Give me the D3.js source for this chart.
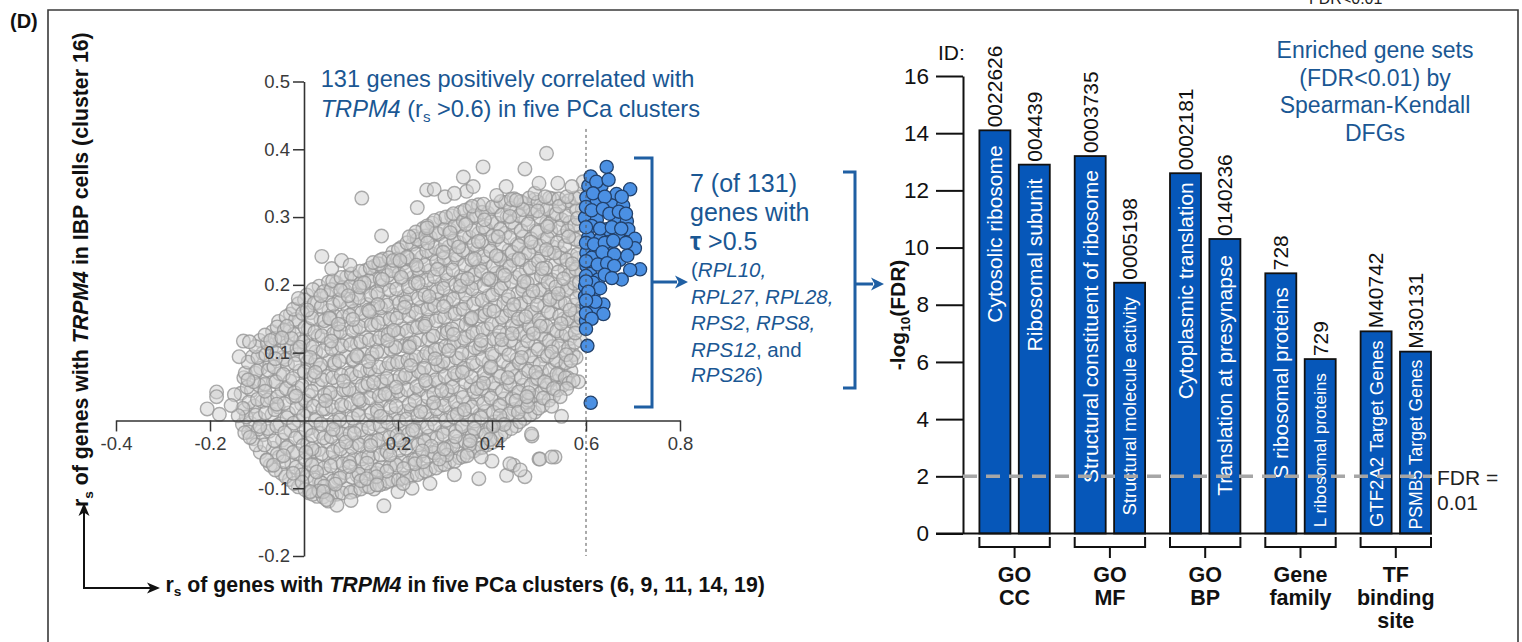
<!DOCTYPE html>
<html>
<head>
<meta charset="utf-8">
<script src="https://cdn.jsdelivr.net/npm/d3@7"></script>
<style>
  html, body { margin: 0; padding: 0; background: #fff; }
  svg { display: block; font-family: "Liberation Sans", Arial, sans-serif; }
  text { white-space: pre; }
</style>
</head>
<body>
<svg id="fig" width="1522" height="642"></svg>
<script>
// ---------- Scatter: rs with TRPM4 (five PCa clusters vs. IBP cluster 16) ----------
// [rs in five PCa clusters, rs in IBP cells]
const grayGenes = [
  [-0.131,-0.006],[-0.126,0.016],[-0.134,0.04],[-0.128,0.063],
  [-0.108,-0.027],[-0.114,-0.004],[-0.106,0.021],[-0.112,0.044],[-0.104,0.07],[-0.11,0.094],
  [-0.093,-0.047],[-0.087,-0.021],[-0.095,0.003],[-0.089,0.028],[-0.084,0.052],[-0.092,0.077],[-0.088,0.099],[-0.094,0.118],
  [-0.072,-0.066],[-0.066,-0.041],[-0.074,-0.016],[-0.068,0.009],[-0.071,0.033],[-0.065,0.058],[-0.073,0.082],[-0.069,0.107],[-0.067,0.131],
  [-0.048,-0.078],[-0.053,-0.054],[-0.046,-0.029],[-0.051,-0.005],[-0.055,0.02],[-0.047,0.045],[-0.052,0.069],[-0.045,0.093],[-0.05,0.118],[-0.054,0.146],
  [-0.031,-0.087],[-0.026,-0.064],[-0.034,-0.038],[-0.028,-0.015],[-0.033,0.011],[-0.025,0.034],[-0.03,0.058],[-0.035,0.083],[-0.027,0.107],[-0.032,0.131],[-0.029,0.157],
  [-0.012,-0.098],[-0.006,-0.073],[-0.014,-0.049],[-0.008,-0.025],[-0.011,0.0],[-0.005,0.024],[-0.013,0.048],[-0.009,0.073],[-0.015,0.097],[-0.007,0.12],[-0.01,0.146],[-0.012,0.172],
  [0.011,-0.107],[0.006,-0.083],[0.014,-0.059],[0.008,-0.034],[0.013,-0.011],[0.005,0.014],[0.01,0.037],[0.015,0.062],[0.007,0.086],[0.012,0.11],[0.009,0.135],[0.014,0.159],[0.006,0.185],
  [0.028,-0.112],[0.033,-0.09],[0.026,-0.066],[0.031,-0.043],[0.035,-0.019],[0.027,0.005],[0.032,0.029],[0.029,0.053],[0.034,0.077],[0.025,0.101],[0.03,0.125],[0.036,0.149],[0.028,0.173],[0.032,0.198],
  [0.051,-0.104],[0.047,-0.079],[0.054,-0.055],[0.049,-0.031],[0.053,-0.007],[0.046,0.017],[0.052,0.041],[0.048,0.065],[0.055,0.089],[0.05,0.113],[0.045,0.138],[0.053,0.162],[0.049,0.185],[0.052,0.204],
  [0.069,-0.109],[0.073,-0.086],[0.066,-0.062],[0.072,-0.038],[0.068,-0.014],[0.074,0.01],[0.067,0.034],[0.071,0.058],[0.065,0.082],[0.073,0.106],[0.07,0.13],[0.066,0.154],[0.074,0.178],[0.069,0.203],
  [0.091,-0.101],[0.087,-0.077],[0.094,-0.052],[0.088,-0.028],[0.093,-0.003],[0.086,0.021],[0.09,0.045],[0.095,0.07],[0.089,0.094],[0.092,0.118],[0.085,0.142],[0.093,0.167],[0.088,0.191],[0.091,0.212],
  [0.108,-0.104],[0.113,-0.081],[0.106,-0.057],[0.112,-0.033],[0.109,-0.009],[0.114,0.015],[0.107,0.04],[0.111,0.064],[0.105,0.088],[0.113,0.113],[0.11,0.137],[0.106,0.161],[0.112,0.186],[0.108,0.21],
  [0.131,-0.097],[0.126,-0.072],[0.134,-0.048],[0.128,-0.024],[0.133,0.0],[0.125,0.025],[0.13,0.049],[0.135,0.074],[0.127,0.098],[0.132,0.122],[0.129,0.147],[0.134,0.171],[0.126,0.196],[0.131,0.221],
  [0.149,-0.101],[0.153,-0.078],[0.146,-0.054],[0.152,-0.03],[0.148,-0.005],[0.155,0.019],[0.147,0.043],[0.151,0.067],[0.145,0.092],[0.154,0.116],[0.15,0.141],[0.146,0.165],[0.153,0.189],[0.148,0.213],[0.151,0.228],
  [0.171,-0.093],[0.166,-0.069],[0.174,-0.044],[0.168,-0.02],[0.173,0.004],[0.165,0.029],[0.17,0.053],[0.175,0.077],[0.167,0.102],[0.172,0.126],[0.169,0.15],[0.174,0.175],[0.166,0.199],[0.171,0.223],[0.168,0.238],
  [0.188,-0.088],[0.193,-0.063],[0.186,-0.039],[0.191,-0.015],[0.195,0.01],[0.187,0.034],[0.192,0.058],[0.189,0.083],[0.194,0.107],[0.185,0.131],[0.19,0.156],[0.196,0.18],[0.188,0.204],[0.192,0.228],[0.189,0.248],
  [0.211,-0.085],[0.207,-0.06],[0.214,-0.035],[0.209,-0.011],[0.213,0.013],[0.206,0.037],[0.212,0.062],[0.208,0.086],[0.215,0.11],[0.21,0.135],[0.205,0.159],[0.213,0.183],[0.209,0.208],[0.212,0.232],[0.207,0.255],
  [0.229,-0.082],[0.233,-0.057],[0.226,-0.033],[0.232,-0.008],[0.228,0.016],[0.234,0.04],[0.227,0.065],[0.231,0.089],[0.225,0.114],[0.233,0.138],[0.23,0.162],[0.226,0.187],[0.232,0.211],[0.228,0.236],[0.231,0.26],[0.234,0.272],
  [0.251,-0.077],[0.246,-0.052],[0.254,-0.028],[0.248,-0.003],[0.253,0.021],[0.245,0.045],[0.25,0.07],[0.255,0.094],[0.247,0.119],[0.252,0.143],[0.249,0.167],[0.254,0.192],[0.246,0.216],[0.251,0.241],[0.248,0.265],[0.253,0.283],
  [0.268,-0.072],[0.273,-0.047],[0.266,-0.023],[0.271,0.002],[0.275,0.026],[0.267,0.05],[0.272,0.075],[0.269,0.099],[0.274,0.124],[0.265,0.148],[0.27,0.172],[0.276,0.197],[0.268,0.221],[0.272,0.246],[0.269,0.27],[0.273,0.291],
  [0.291,-0.066],[0.287,-0.042],[0.294,-0.017],[0.289,0.007],[0.293,0.031],[0.286,0.056],[0.292,0.08],[0.288,0.105],[0.295,0.129],[0.29,0.153],[0.285,0.178],[0.293,0.202],[0.289,0.227],[0.292,0.251],[0.287,0.275],[0.291,0.298],
  [0.309,-0.061],[0.313,-0.037],[0.306,-0.012],[0.312,0.012],[0.308,0.037],[0.314,0.061],[0.307,0.085],[0.311,0.11],[0.305,0.134],[0.313,0.159],[0.31,0.183],[0.306,0.207],[0.312,0.232],[0.308,0.256],[0.311,0.281],[0.314,0.302],
  [0.331,-0.055],[0.326,-0.031],[0.334,-0.006],[0.328,0.018],[0.333,0.042],[0.325,0.067],[0.33,0.091],[0.335,0.116],[0.327,0.14],[0.332,0.164],[0.329,0.189],[0.334,0.213],[0.326,0.238],[0.331,0.262],[0.328,0.286],[0.333,0.307],
  [0.348,-0.047],[0.353,-0.022],[0.346,0.002],[0.351,0.026],[0.355,0.051],[0.347,0.075],[0.352,0.1],[0.349,0.124],[0.354,0.148],[0.345,0.173],[0.35,0.197],[0.356,0.222],[0.348,0.246],[0.352,0.27],[0.349,0.295],[0.353,0.313],
  [0.371,-0.041],[0.367,-0.016],[0.374,0.008],[0.369,0.032],[0.373,0.057],[0.366,0.081],[0.372,0.106],[0.368,0.13],[0.375,0.154],[0.37,0.179],[0.365,0.203],[0.373,0.228],[0.369,0.252],[0.372,0.276],[0.367,0.301],[0.371,0.318],
  [0.389,-0.036],[0.393,-0.011],[0.386,0.013],[0.392,0.038],[0.388,0.062],[0.394,0.086],[0.387,0.111],[0.391,0.135],[0.385,0.16],[0.393,0.184],[0.39,0.208],[0.386,0.233],[0.392,0.257],[0.388,0.282],[0.391,0.306],
  [0.411,-0.027],[0.406,-0.002],[0.414,0.022],[0.408,0.047],[0.413,0.071],[0.405,0.095],[0.41,0.12],[0.415,0.144],[0.407,0.169],[0.412,0.193],[0.409,0.217],[0.414,0.242],[0.406,0.266],[0.411,0.291],[0.408,0.315],
  [0.428,-0.017],[0.433,0.007],[0.426,0.032],[0.431,0.056],[0.435,0.08],[0.427,0.105],[0.432,0.129],[0.429,0.154],[0.434,0.178],[0.425,0.202],[0.43,0.227],[0.436,0.251],[0.428,0.276],[0.432,0.3],[0.429,0.322],
  [0.451,-0.008],[0.447,0.016],[0.454,0.041],[0.449,0.065],[0.453,0.09],[0.446,0.114],[0.452,0.138],[0.448,0.163],[0.455,0.187],[0.45,0.211],[0.445,0.236],[0.453,0.26],[0.449,0.285],[0.452,0.309],[0.447,0.327],
  [0.469,0.003],[0.473,0.027],[0.466,0.052],[0.472,0.076],[0.468,0.1],[0.474,0.125],[0.467,0.149],[0.471,0.174],[0.465,0.198],[0.473,0.222],[0.47,0.247],[0.466,0.271],[0.472,0.296],[0.468,0.32],
  [0.491,0.012],[0.486,0.036],[0.494,0.061],[0.488,0.085],[0.493,0.11],[0.485,0.134],[0.49,0.158],[0.495,0.183],[0.487,0.207],[0.492,0.231],[0.489,0.256],[0.494,0.28],[0.486,0.305],[0.491,0.326],
  [0.508,0.022],[0.513,0.047],[0.506,0.071],[0.511,0.095],[0.515,0.12],[0.507,0.144],[0.512,0.169],[0.509,0.193],[0.514,0.217],[0.505,0.242],[0.51,0.266],[0.516,0.291],[0.508,0.315],
  [0.531,0.036],[0.527,0.06],[0.534,0.085],[0.529,0.109],[0.533,0.134],[0.526,0.158],[0.532,0.182],[0.528,0.207],[0.535,0.231],[0.53,0.256],[0.525,0.28],[0.533,0.304],[0.529,0.327],
  [0.551,0.052],[0.546,0.076],[0.554,0.101],[0.548,0.125],[0.553,0.15],[0.545,0.174],[0.55,0.198],[0.555,0.223],[0.547,0.247],[0.552,0.272],[0.549,0.296],[0.554,0.32],
  [0.568,0.073],[0.573,0.097],[0.566,0.121],[0.571,0.146],[0.575,0.17],[0.567,0.195],[0.572,0.219],[0.569,0.243],[0.574,0.268],[0.565,0.292],[0.57,0.316],
  [0.588,0.118],[0.584,0.142],[0.591,0.166],[0.586,0.19],[0.59,0.215],[0.583,0.239],[0.589,0.263],[0.585,0.288],[0.592,0.312],[0.587,0.33],
  // second pass through the dense core
  [-0.118,-0.017],[-0.123,0.005],[-0.117,0.027],[-0.121,0.049],[-0.125,0.07],[-0.119,0.086],
  [-0.102,-0.036],[-0.097,-0.013],[-0.103,0.008],[-0.099,0.031],[-0.096,0.052],[-0.101,0.073],[-0.098,0.093],[-0.103,0.109],
  [-0.079,-0.058],[-0.084,-0.036],[-0.077,-0.012],[-0.082,0.011],[-0.078,0.03],[-0.083,0.054],[-0.076,0.074],[-0.081,0.097],[-0.078,0.114],[-0.083,0.126],
  [-0.061,-0.073],[-0.057,-0.05],[-0.063,-0.03],[-0.058,-0.008],[-0.062,0.016],[-0.056,0.035],[-0.06,0.057],[-0.064,0.079],[-0.058,0.099],[-0.062,0.121],[-0.057,0.138],
  [-0.039,-0.083],[-0.043,-0.061],[-0.037,-0.04],[-0.041,-0.018],[-0.036,0.004],[-0.042,0.025],[-0.038,0.047],[-0.044,0.068],[-0.039,0.09],[-0.036,0.111],[-0.042,0.133],[-0.038,0.153],
  [-0.021,-0.093],[-0.017,-0.069],[-0.023,-0.047],[-0.018,-0.026],[-0.022,-0.004],[-0.016,0.018],[-0.02,0.041],[-0.024,0.062],[-0.019,0.084],[-0.015,0.106],[-0.021,0.127],[-0.018,0.149],[-0.023,0.164],
  [0.002,-0.102],[-0.003,-0.08],[0.003,-0.058],[-0.002,-0.037],[0.004,-0.014],[-0.001,0.007],[0.003,0.029],[-0.004,0.051],[0.001,0.072],[0.004,0.094],[-0.002,0.116],[0.002,0.137],[-0.003,0.158],[0.001,0.178],
  [0.019,-0.109],[0.023,-0.088],[0.017,-0.066],[0.022,-0.045],[0.018,-0.022],[0.024,0.0],[0.02,0.021],[0.016,0.043],[0.021,0.066],[0.025,0.087],[0.019,0.108],[0.023,0.13],[0.017,0.151],[0.022,0.173],[0.019,0.193],
  [0.041,-0.113],[0.037,-0.092],[0.043,-0.07],[0.038,-0.049],[0.042,-0.026],[0.036,-0.005],[0.04,0.017],[0.044,0.038],[0.039,0.06],[0.035,0.082],[0.041,0.103],[0.038,0.125],[0.043,0.147],[0.037,0.168],[0.042,0.19],
  [0.059,-0.11],[0.063,-0.089],[0.057,-0.067],[0.062,-0.046],[0.058,-0.024],[0.064,-0.002],[0.06,0.02],[0.056,0.041],[0.061,0.063],[0.065,0.085],[0.059,0.106],[0.063,0.128],[0.057,0.15],[0.062,0.171],[0.058,0.193],[0.061,0.206],
  [0.081,-0.107],[0.077,-0.085],[0.083,-0.064],[0.078,-0.042],[0.082,-0.02],[0.076,0.001],[0.08,0.023],[0.084,0.045],[0.079,0.067],[0.075,0.088],[0.081,0.11],[0.078,0.131],[0.083,0.153],[0.077,0.175],[0.082,0.196],[0.079,0.211],
  [0.099,-0.106],[0.103,-0.084],[0.097,-0.062],[0.102,-0.04],[0.098,-0.019],[0.104,0.003],[0.1,0.025],[0.096,0.046],[0.101,0.068],[0.105,0.09],[0.099,0.112],[0.103,0.133],[0.097,0.155],[0.102,0.176],[0.098,0.198],[0.101,0.216],
  [0.121,-0.101],[0.117,-0.079],[0.123,-0.057],[0.118,-0.036],[0.122,-0.014],[0.116,0.008],[0.12,0.029],[0.124,0.051],[0.119,0.073],[0.115,0.094],[0.121,0.116],[0.118,0.138],[0.123,0.159],[0.117,0.181],[0.122,0.203],[0.119,0.22],
  [0.139,-0.098],[0.143,-0.076],[0.137,-0.054],[0.142,-0.032],[0.138,-0.011],[0.144,0.011],[0.14,0.033],[0.136,0.054],[0.141,0.076],[0.145,0.098],[0.139,0.119],[0.143,0.141],[0.137,0.163],[0.142,0.184],[0.138,0.206],[0.141,0.225],
  [0.161,-0.095],[0.157,-0.073],[0.163,-0.051],[0.158,-0.029],[0.162,-0.008],[0.156,0.014],[0.16,0.036],[0.164,0.057],[0.159,0.079],[0.155,0.101],[0.161,0.122],[0.158,0.144],[0.163,0.166],[0.157,0.187],[0.162,0.209],[0.159,0.231],
  [0.179,-0.09],[0.183,-0.068],[0.177,-0.046],[0.182,-0.025],[0.178,-0.003],[0.184,0.019],[0.18,0.04],[0.176,0.062],[0.181,0.084],[0.185,0.105],[0.179,0.127],[0.183,0.149],[0.177,0.17],[0.182,0.192],[0.178,0.214],[0.181,0.24],
  [0.201,-0.088],[0.197,-0.066],[0.203,-0.044],[0.198,-0.022],[0.202,-0.001],[0.196,0.021],[0.2,0.043],[0.204,0.064],[0.199,0.086],[0.195,0.108],[0.201,0.129],[0.198,0.151],[0.203,0.173],[0.197,0.194],[0.202,0.216],[0.199,0.238],[0.201,0.252],
  [0.219,-0.085],[0.223,-0.063],[0.217,-0.041],[0.222,-0.02],[0.218,0.002],[0.224,0.024],[0.22,0.045],[0.216,0.067],[0.221,0.089],[0.225,0.11],[0.219,0.132],[0.223,0.154],[0.217,0.175],[0.222,0.197],[0.218,0.219],[0.221,0.24],[0.219,0.262],
  [0.241,-0.08],[0.237,-0.058],[0.243,-0.036],[0.238,-0.015],[0.242,0.007],[0.236,0.029],[0.24,0.05],[0.244,0.072],[0.239,0.094],[0.235,0.115],[0.241,0.137],[0.238,0.159],[0.243,0.18],[0.237,0.202],[0.242,0.224],[0.239,0.245],[0.241,0.267],[0.238,0.278],
  [0.259,-0.075],[0.263,-0.053],[0.257,-0.031],[0.262,-0.01],[0.258,0.012],[0.264,0.034],[0.26,0.055],[0.256,0.077],[0.261,0.099],[0.265,0.12],[0.259,0.142],[0.263,0.164],[0.257,0.185],[0.262,0.207],[0.258,0.229],[0.261,0.25],[0.259,0.272],[0.262,0.287],
  [0.281,-0.07],[0.277,-0.048],[0.283,-0.026],[0.278,-0.005],[0.282,0.017],[0.276,0.039],[0.28,0.06],[0.284,0.082],[0.279,0.104],[0.275,0.125],[0.281,0.147],[0.278,0.169],[0.283,0.19],[0.277,0.212],[0.282,0.234],[0.279,0.255],[0.281,0.277],[0.278,0.295],
  [0.299,-0.065],[0.303,-0.043],[0.297,-0.021],[0.302,0.0],[0.298,0.022],[0.304,0.044],[0.3,0.065],[0.296,0.087],[0.301,0.109],[0.305,0.13],[0.299,0.152],[0.303,0.174],[0.297,0.195],[0.302,0.217],[0.298,0.239],[0.301,0.26],[0.299,0.282],[0.302,0.3],
  [0.321,-0.06],[0.317,-0.038],[0.323,-0.016],[0.318,0.005],[0.322,0.027],[0.316,0.049],[0.32,0.07],[0.324,0.092],[0.319,0.114],[0.315,0.135],[0.321,0.157],[0.318,0.179],[0.323,0.2],[0.317,0.222],[0.322,0.244],[0.319,0.265],[0.321,0.287],[0.318,0.305],
  [0.339,-0.053],[0.343,-0.031],[0.337,-0.009],[0.342,0.012],[0.338,0.034],[0.344,0.056],[0.34,0.077],[0.336,0.099],[0.341,0.121],[0.345,0.142],[0.339,0.164],[0.343,0.186],[0.337,0.207],[0.342,0.229],[0.338,0.251],[0.341,0.272],[0.339,0.294],[0.342,0.31],
  [0.361,-0.045],[0.357,-0.023],[0.363,-0.001],[0.358,0.02],[0.362,0.042],[0.356,0.064],[0.36,0.085],[0.364,0.107],[0.359,0.129],[0.355,0.15],[0.361,0.172],[0.358,0.194],[0.363,0.215],[0.357,0.237],[0.362,0.259],[0.359,0.28],[0.361,0.302],[0.358,0.316],
  [0.379,-0.04],[0.383,-0.018],[0.377,0.004],[0.382,0.025],[0.378,0.047],[0.384,0.069],[0.38,0.09],[0.376,0.112],[0.381,0.134],[0.385,0.155],[0.379,0.177],[0.383,0.199],[0.377,0.22],[0.382,0.242],[0.378,0.264],[0.381,0.285],[0.379,0.307],[0.382,0.319],
  [0.401,-0.032],[0.397,-0.01],[0.403,0.012],[0.398,0.033],[0.402,0.055],[0.396,0.077],[0.4,0.098],[0.404,0.12],[0.399,0.142],[0.395,0.163],[0.401,0.185],[0.398,0.207],[0.403,0.228],[0.397,0.25],[0.402,0.272],[0.399,0.293],[0.401,0.315],
  [0.419,-0.022],[0.423,0.0],[0.417,0.022],[0.422,0.043],[0.418,0.065],[0.424,0.087],[0.42,0.108],[0.416,0.13],[0.421,0.152],[0.425,0.173],[0.419,0.195],[0.423,0.217],[0.417,0.238],[0.422,0.26],[0.418,0.282],[0.421,0.303],[0.419,0.323],
  [0.441,-0.012],[0.437,0.01],[0.443,0.032],[0.438,0.053],[0.442,0.075],[0.436,0.097],[0.44,0.118],[0.444,0.14],[0.439,0.162],[0.435,0.183],[0.441,0.205],[0.438,0.227],[0.443,0.248],[0.437,0.27],[0.442,0.292],[0.439,0.313],[0.441,0.326],
  [0.459,-0.002],[0.463,0.02],[0.457,0.042],[0.462,0.063],[0.458,0.085],[0.464,0.107],[0.46,0.128],[0.456,0.15],[0.461,0.172],[0.465,0.193],[0.459,0.215],[0.463,0.237],[0.457,0.258],[0.462,0.28],[0.458,0.302],[0.461,0.323],
  [0.481,0.008],[0.477,0.03],[0.483,0.052],[0.478,0.073],[0.482,0.095],[0.476,0.117],[0.48,0.138],[0.484,0.16],[0.479,0.182],[0.475,0.203],[0.481,0.225],[0.478,0.247],[0.483,0.268],[0.477,0.29],[0.482,0.312],[0.479,0.328],
  [0.499,0.018],[0.503,0.04],[0.497,0.062],[0.502,0.083],[0.498,0.105],[0.504,0.127],[0.5,0.148],[0.496,0.17],[0.501,0.192],[0.505,0.213],[0.499,0.235],[0.503,0.257],[0.497,0.278],[0.502,0.3],[0.498,0.322],
  [0.521,0.03],[0.517,0.052],[0.523,0.074],[0.518,0.095],[0.522,0.117],[0.516,0.139],[0.52,0.16],[0.524,0.182],[0.519,0.204],[0.515,0.225],[0.521,0.247],[0.518,0.269],[0.523,0.29],[0.517,0.312],[0.522,0.328],
  [0.539,0.045],[0.543,0.067],[0.537,0.089],[0.542,0.11],[0.538,0.132],[0.544,0.154],[0.54,0.175],[0.536,0.197],[0.541,0.219],[0.545,0.24],[0.539,0.262],[0.543,0.284],[0.537,0.305],[0.542,0.327],
  [0.561,0.063],[0.557,0.085],[0.563,0.107],[0.558,0.128],[0.562,0.15],[0.556,0.172],[0.56,0.193],[0.564,0.215],[0.559,0.237],[0.555,0.258],[0.561,0.28],[0.558,0.302],[0.563,0.324],
  [0.579,0.093],[0.576,0.115],[0.581,0.137],[0.577,0.158],[0.58,0.18],[0.575,0.202],[0.579,0.223],[0.582,0.245],[0.578,0.267],[0.576,0.288],[0.58,0.31],[0.577,0.328],
  // scattered genes between the passes
  [-0.083,0.043],[-0.061,0.091],[-0.044,-0.052],[-0.027,0.121],[-0.017,0.036],[-0.004,-0.091],[0.007,0.163],[0.017,-0.042],
  [0.024,0.071],[0.036,0.184],[0.043,-0.097],[0.058,0.117],[0.062,-0.013],[0.078,0.192],[0.084,0.058],[0.097,-0.068],
  [0.104,0.149],[0.116,0.031],[0.121,-0.089],[0.128,0.203],[0.137,0.087],[0.142,-0.037],[0.157,0.171],[0.163,0.006],
  [0.176,-0.075],[0.178,0.118],[0.187,0.221],[0.196,0.049],[0.203,-0.029],[0.214,0.167],[0.219,0.241],[0.227,0.081],
  [0.236,-0.064],[0.243,0.203],[0.248,0.013],[0.257,0.139],[0.263,0.262],[0.271,-0.038],[0.279,0.091],[0.284,0.223],
  [0.293,0.044],[0.297,0.168],[0.304,-0.051],[0.311,0.277],[0.318,0.127],[0.326,0.009],[0.333,0.198],[0.337,0.071],
  [0.344,0.289],[0.352,-0.036],[0.357,0.151],[0.363,0.238],[0.368,0.047],[0.377,0.118],[0.384,0.296],[0.387,-0.021],
  [0.393,0.209],[0.398,0.079],[0.404,0.161],[0.413,0.271],[0.417,0.007],[0.421,0.119],[0.427,0.214],[0.434,0.063],
  [0.438,0.301],[0.446,0.171],[0.451,0.029],[0.457,0.238],[0.463,0.093],[0.466,0.311],[0.472,0.153],[0.478,0.041],
  [0.483,0.263],[0.487,0.191],[0.493,0.071],[0.497,0.309],[0.503,0.139],[0.507,0.224],[0.512,0.057],[0.518,0.286],
  [0.523,0.178],[0.527,0.101],[0.533,0.247],[0.538,0.068],[0.543,0.316],[0.547,0.143],[0.552,0.209],[0.558,0.097],
  [0.563,0.271],[0.566,0.163],[0.571,0.231],[0.577,0.129],[0.582,0.298],[0.586,0.204],[0.589,0.151],
  [-0.107,0.057],[-0.094,-0.009],[-0.071,0.118],[-0.058,0.024],[-0.036,0.139],[-0.023,-0.078],[-0.009,0.108],[0.004,-0.047],
  [0.013,0.093],[0.027,-0.076],[0.046,0.029],[0.054,0.151],[0.067,-0.094],[0.073,0.142],[0.089,-0.032],[0.094,0.184],
  [0.107,-0.019],[0.112,0.096],[0.118,0.197],[0.134,-0.063],[0.139,0.161],[0.148,0.056],[0.154,-0.083],[0.167,0.208],
  [0.172,0.039],[0.183,-0.051],[0.191,0.133],[0.207,0.211],[0.212,-0.071],[0.224,0.108],[0.231,-0.014],[0.239,0.229],
  [0.252,-0.045],[0.258,0.059],[0.266,0.183],[0.276,0.026],[0.288,-0.057],[0.296,0.248],[0.308,0.103],[0.322,-0.024],
  [0.329,0.256],[0.341,0.016],[0.348,0.209],[0.362,-0.012],[0.371,0.264],[0.382,0.055],[0.396,-0.028],[0.409,0.243],
  [0.426,-0.006],[0.443,0.128],[0.456,0.012],[0.468,0.205],[0.476,0.021],[0.488,0.128],[0.509,0.033],[0.516,0.252],
  [0.531,0.047],[0.541,0.187],[0.556,0.063],[0.568,0.088],
  // sparse edge of the cloud
  [-0.129,0.117],[-0.116,0.116],[-0.138,0.094],[-0.119,0.06],[-0.186,0.042],[-0.186,0.035],[-0.206,0.017],[-0.18,0.009],
  [-0.13,0.018],[-0.14,0.007],[-0.148,0.038],[-0.155,0.022],[-0.126,-0.018],[-0.115,-0.025],[-0.079,-0.059],[-0.065,-0.066],
  [-0.012,0.18],[-0.047,0.122],[0.032,-0.104],[0.052,-0.119],[0.07,-0.125],[0.1,-0.118],[0.17,-0.126],[0.2,-0.105],[0.23,-0.1],
  [0.268,-0.093],[0.32,-0.08],[0.4,-0.06],[0.372,-0.086],[0.431,-0.081],[0.47,-0.083],[0.446,-0.066],[0.5,-0.057],[0.534,-0.054],
  [0.485,-0.023],[0.564,0.055],[0.584,0.057],[0.377,-0.054],[0.347,-0.052],[0.298,-0.042],[0.041,-0.105],[0.048,-0.117],
  [0.013,-0.105],[0.133,-0.086],[0.155,-0.095],[0.211,-0.093],[0.254,-0.061],[0.527,0.021],[0.548,0.006],[0.484,-0.02],
  [0.502,-0.057],[0.527,-0.054],[0.438,-0.064],[0.46,-0.073],[0.353,-0.03],[0.403,-0.008],[0.573,0.059],[0.559,0.047],
  [0.545,0.035],[0.474,0.035],
  [0.123,0.328],[0.165,0.272],[0.224,0.271],[0.241,0.314],[0.261,0.34],[0.277,0.341],[0.262,0.284],[0.339,0.359],
  [0.381,0.374],[0.346,0.338],[0.47,0.371],[0.516,0.394],[0.41,0.332],[0.452,0.325],[0.491,0.335],[0.513,0.33],
  [0.559,0.33],[0.594,0.352],[0.038,0.242],[0.059,0.224],[0.08,0.236],[0.098,0.229],[0.147,0.233],[0.162,0.236],
  [0.19,0.236],[0.204,0.236],[0.3,0.33],[0.32,0.335],[0.36,0.345],[0.43,0.345],[0.5,0.35],[0.54,0.35],[0.57,0.345]
];

// 131 genes with rs > 0.6 in the five PCa clusters
const posGenes = [
  [0.644,0.374],[0.605,0.346],[0.633,0.346],[0.694,0.341],[0.665,0.334],[0.601,0.329],[0.623,0.324],[0.655,0.317],
  [0.679,0.317],[0.598,0.299],[0.623,0.296],[0.665,0.296],[0.687,0.294],[0.612,0.287],[0.644,0.282],[0.69,0.282],
  [0.605,0.27],[0.63,0.267],[0.669,0.27],[0.704,0.268],[0.704,0.254],[0.647,0.252],[0.601,0.247],[0.619,0.245],
  [0.672,0.237],[0.633,0.235],[0.601,0.228],[0.651,0.225],[0.715,0.223],[0.694,0.222],[0.609,0.216],[0.626,0.208],
  [0.676,0.208],[0.598,0.198],[0.616,0.187],[0.598,0.183],[0.601,0.169],[0.637,0.171],[0.619,0.161],[0.637,0.157],
  [0.6,0.147],[0.603,0.11],[0.61,0.026],
  [0.61,0.36],[0.622,0.352],[0.648,0.355],[0.615,0.335],[0.64,0.33],[0.676,0.33],[0.6,0.315],[0.612,0.31],
  [0.636,0.312],[0.65,0.305],[0.67,0.308],[0.685,0.305],[0.6,0.285],[0.63,0.283],[0.655,0.285],[0.675,0.283],
  [0.6,0.262],[0.617,0.26],[0.64,0.262],[0.658,0.265],[0.685,0.262],[0.612,0.24],[0.635,0.248],[0.66,0.245],
  [0.688,0.243],[0.6,0.235],[0.625,0.23],[0.645,0.232],[0.66,0.228],[0.6,0.213],[0.615,0.203],[0.64,0.215],
  [0.655,0.21],[0.6,0.205],[0.63,0.195],[0.605,0.19],[0.62,0.175],[0.6,0.177],[0.6,0.158],[0.612,0.15],[0.6,0.135]
];
const scatterXTicks = [-0.4, -0.2, 0.2, 0.4, 0.6, 0.8];
const scatterYTicks = [-0.2, -0.1, 0.1, 0.2, 0.3, 0.4, 0.5];
const rsCutoff = 0.6;

// ---------- Bars: enriched gene sets ----------
const setGroups = [["GO","CC"],["GO","MF"],["GO","BP"],["Gene","family"],["TF","binding","site"]];
const setNames = ["Cytosolic ribosome","Ribosomal subunit","Structural constituent of ribosome",
  "Structural molecule activity","Cytoplasmic translation","Translation at presynapse",
  "S ribosomal proteins","L ribosomal proteins","GTF2A2 Target Genes","PSMB5 Target Genes"];
const setIds = ["0022626","004439","0003735","0005198","0002181","0140236","728","729","M40742","M30131"];
const setGroupIndex = [0,0,1,1,2,2,3,3,4,4];
const negLog10FDR = [14.1, 12.9, 13.2, 8.77, 12.6, 10.3, 9.1, 6.1, 7.07, 6.36];
const barYTicks = [0,2,4,6,8,10,12,14,16];
const fdrThreshold = 2;

// label styling inside bars
const inLabelSize = [21,21,21,18.4,21,21,21,17.2,18.6,17.6];
const inLabelPad  = [15,14,14,14,9,16,14,14,9,8];

const BLUE_TXT = "#1a5793";
const BLUE_LINE = "#1f5fa3";

const svg = d3.select("#fig");

// rich text helper: parts are strings or {t, i (italic), b (bold), sub}
function rich(parent, opt, parts) {
  const t = parent.append("text")
    .attr("font-size", opt.size)
    .attr("fill", opt.fill || "#111")
    .attr("text-anchor", opt.anchor || "start");
  if (opt.weight) t.attr("font-weight", opt.weight);
  if (opt.rotate) t.attr("transform", `translate(${opt.x},${opt.y}) rotate(${opt.rotate})`);
  else t.attr("x", opt.x).attr("y", opt.y);
  if (opt.dy) t.attr("dy", opt.dy);
  let shift = 0;
  parts.forEach(p => {
    const s = typeof p === "string" ? { t: p } : p;
    const ts = t.append("tspan").text(s.t);
    if (s.i) ts.attr("font-style", "italic");
    if (s.b) ts.attr("font-weight", "bold");
    if (s.sub) {
      const d = opt.size * 0.22;
      ts.attr("font-size", opt.size * 0.64).attr("dy", d - shift);
      shift = d;
    } else if (shift) {
      ts.attr("dy", -shift);
      shift = 0;
    }
  });
  return t;
}

// frame and panel letter
svg.append("path").attr("d", "M48,642V10H1518V642")
  .attr("fill", "none").attr("stroke", "#3a3a3a").attr("stroke-width", 1.6);
rich(svg, { x: 10, y: 28, size: 20, weight: "bold" }, ["(D)"]);
rich(svg, { x: 1309, y: 4, size: 16, fill: "#222" }, ["FDR<0.01"]);

// ================= scatter =================
const xS = d3.scaleLinear().domain([-0.4, 0.8]).range([116, 680]);
const yS = d3.scaleLinear().domain([-0.2, 0.5]).range([556, 81.5]);
const gS = svg.append("g");

gS.append("g").selectAll("circle").data(grayGenes).join("circle")
  .attr("cx", d => xS(d[0])).attr("cy", d => yS(d[1])).attr("r", 6.8)
  .attr("fill", "rgba(208,208,208,0.5)")
  .attr("stroke", "rgba(150,150,150,0.8)").attr("stroke-width", 1.4);

gS.append("g").selectAll("circle").data(posGenes).join("circle")
  .attr("cx", d => xS(d[0])).attr("cy", d => yS(d[1])).attr("r", 6.6)
  .attr("fill", "#4b90e3").attr("stroke", "#22416b").attr("stroke-width", 1.3);

gS.append("line")
  .attr("x1", xS(rsCutoff)).attr("x2", xS(rsCutoff))
  .attr("y1", yS(0.43)).attr("y2", yS(-0.2))
  .attr("stroke", "#555").attr("stroke-width", 1).attr("stroke-dasharray", "3,3");

function styleAxis(g, size, color) {
  g.attr("font-family", null).attr("font-size", size);
  g.select(".domain").attr("stroke", "#333").attr("stroke-width", 1.6);
  g.selectAll(".tick line").attr("stroke", "#333").attr("stroke-width", 1.5);
  g.selectAll(".tick text").attr("fill", color);
}

const gxS = gS.append("g").attr("transform", `translate(0,${yS(0)})`)
  .call(d3.axisBottom(xS).tickValues(scatterXTicks).tickSize(11).tickSizeOuter(0)
    .tickPadding(5).tickFormat(d => String(d)));
styleAxis(gxS, 18.5, "#3a3a3a");

const gyS = gS.append("g").attr("transform", `translate(${xS(0)},0)`)
  .call(d3.axisLeft(yS).tickValues(scatterYTicks).tickSize(11).tickSizeOuter(0)
    .tickPadding(3).tickFormat(d => d.toFixed(1)));
styleAxis(gyS, 18.5, "#3a3a3a");

// axis titles with direction arrows
rich(svg, { x: 88, y: 507, rotate: -90, size: 21.3, weight: "bold" },
  ["r", { t: "s", sub: 1 }, " of genes with ", { t: "TRPM4", i: 1 }, " in IBP cells (cluster 16)"]);
rich(svg, { x: 165.5, y: 591.5, size: 21.3, weight: "bold" },
  ["r", { t: "s", sub: 1 }, " of genes with ", { t: "TRPM4", i: 1 }, " in five PCa clusters (6, 9, 11, 14, 19)"]);
svg.append("path").attr("d", "M84,589V512M83,588H151")
  .attr("stroke", "#111").attr("stroke-width", 2).attr("fill", "none");
svg.append("path").attr("d", "M84,503L78.5,516L84,512.5L89.5,516Z M160,588L147,582.5L150.5,588L147,593.5Z")
  .attr("fill", "#111");

// annotations
rich(svg, { x: 320.7, y: 87.3, size: 23.6, fill: BLUE_TXT }, ["131 genes positively correlated with"]);
rich(svg, { x: 320.7, y: 117, size: 23.6, fill: BLUE_TXT },
  [{ t: "TRPM4", i: 1 }, " (r", { t: "s", sub: 1 }, " >0.6) in five PCa clusters"]);

svg.append("path").attr("d", "M634,158H652V407H634 M652,282H677 M843,172H855V388H843 M855,284H873")
  .attr("stroke", BLUE_LINE).attr("stroke-width", 3).attr("fill", "none");
svg.append("path").attr("d", "M688,282L675,275.5L678.5,282L675,288.5Z M884,284L871,277.5L874.5,284L871,290.5Z")
  .attr("fill", BLUE_LINE);

rich(svg, { x: 690, y: 191.5, size: 25, fill: BLUE_TXT }, ["7 (of 131)"]);
rich(svg, { x: 690, y: 220.5, size: 25, fill: BLUE_TXT }, ["genes with"]);
rich(svg, { x: 690, y: 250, size: 25, fill: BLUE_TXT }, [{ t: "τ", b: 1 }, " >0.5"]);
const geneLines = [
  ["(", { t: "RPL10,", i: 1 }],
  [{ t: "RPL27", i: 1 }, ", ", { t: "RPL28,", i: 1 }],
  [{ t: "RPS2", i: 1 }, ", ", { t: "RPS8,", i: 1 }],
  [{ t: "RPS12", i: 1 }, ", and"],
  [{ t: "RPS26", i: 1 }, ")"]
];
[277, 303.5, 330, 356.5, 382].forEach((y, k) =>
  rich(svg, { x: 691, y, size: 20.5, fill: BLUE_TXT }, geneLines[k]));

// ================= bar chart =================
const yB = d3.scaleLinear().domain([0, 16]).range([533.5, 76]);
const xG = d3.scaleBand().domain(d3.range(setGroups.length)).range([979.4, 1431])
  .paddingInner(0.2613).paddingOuter(0);
const xIn = d3.scaleBand().domain([0, 1]).range([0, xG.bandwidth()])
  .paddingInner(0.2132).paddingOuter(0);

const bars = setNames.map((name, i) => ({
  name, id: setIds[i], v: negLog10FDR[i], g: setGroupIndex[i],
  k: i > 0 && setGroupIndex[i - 1] === setGroupIndex[i] ? 1 : 0, i
}));
const bx = d => xG(d.g) + xIn(d.k);
const bw = xIn.bandwidth();

const gB = svg.append("g");
gB.selectAll("rect").data(bars).join("rect")
  .attr("x", bx).attr("y", d => yB(d.v))
  .attr("width", bw).attr("height", d => yB(0) - yB(d.v))
  .attr("fill", "#0657b9").attr("stroke", "#111").attr("stroke-width", 1.8);

// set names inside bars, IDs above
bars.forEach(d => {
  rich(gB, { x: bx(d) + bw / 2, y: yB(d.v) + inLabelPad[d.i], rotate: -90,
    size: inLabelSize[d.i], fill: "#fff", anchor: "end", dy: "0.35em" }, [d.name]);
  rich(gB, { x: bx(d) + bw / 2, y: yB(d.v) - 3, rotate: -90,
    size: 21, fill: "#111", anchor: "start", dy: "0.35em" }, [d.id]);
});

const gyB = gB.append("g").attr("transform", "translate(963,0)")
  .call(d3.axisLeft(yB).tickValues(barYTicks).tickSize(27).tickSizeOuter(0).tickPadding(7));
gyB.attr("font-family", null).attr("font-size", 22.5);
gyB.select(".domain").attr("stroke", "#111").attr("stroke-width", 2);
gyB.selectAll(".tick line").attr("stroke", "#111").attr("stroke-width", 2);
gyB.selectAll(".tick text").attr("fill", "#111");
gB.append("line").attr("x1", 936).attr("x2", xG(4) + xG.bandwidth() + 1)
  .attr("y1", yB(0)).attr("y2", yB(0)).attr("stroke", "#111").attr("stroke-width", 2);

rich(svg, { x: 938, y: 60, size: 21 }, ["ID:"]);
rich(svg, { x: 898, y: 315, rotate: -90, size: 21, weight: "bold", anchor: "middle", dy: "0.35em" },
  ["-log", { t: "10", sub: 1 }, "(FDR)"]);

// FDR threshold line
gB.append("line").attr("x1", 963).attr("x2", 1432)
  .attr("y1", yB(fdrThreshold)).attr("y2", yB(fdrThreshold))
  .attr("stroke", "#a6a6a6").attr("stroke-width", 3.5).attr("stroke-dasharray", "14,9");
rich(svg, { x: 1437, y: 485, size: 21, fill: "#222" }, ["FDR ="]);
rich(svg, { x: 1437, y: 510, size: 21, fill: "#222" }, ["0.01"]);

// category brackets
setGroups.forEach((lines, gi) => {
  const l = xG(gi), r = xG(gi) + xG.bandwidth(), c = (l + r) / 2;
  gB.append("path").attr("d", `M${l},537V547H${r}V537M${c},547V558`)
    .attr("fill", "none").attr("stroke", "#111").attr("stroke-width", 2);
  lines.forEach((s, li) =>
    rich(gB, { x: c, y: 582 + li * 23.2, size: 21.5, weight: "bold", anchor: "middle" }, [s]));
});

// legend block
["Enriched gene sets", "(FDR<0.01) by", "Spearman-Kendall", "DFGs"].forEach((s, k) =>
  rich(svg, { x: 1375, y: 58.3 + k * 27.4, size: 23, fill: BLUE_TXT, anchor: "middle" }, [s]));
</script>
</body>
</html>
